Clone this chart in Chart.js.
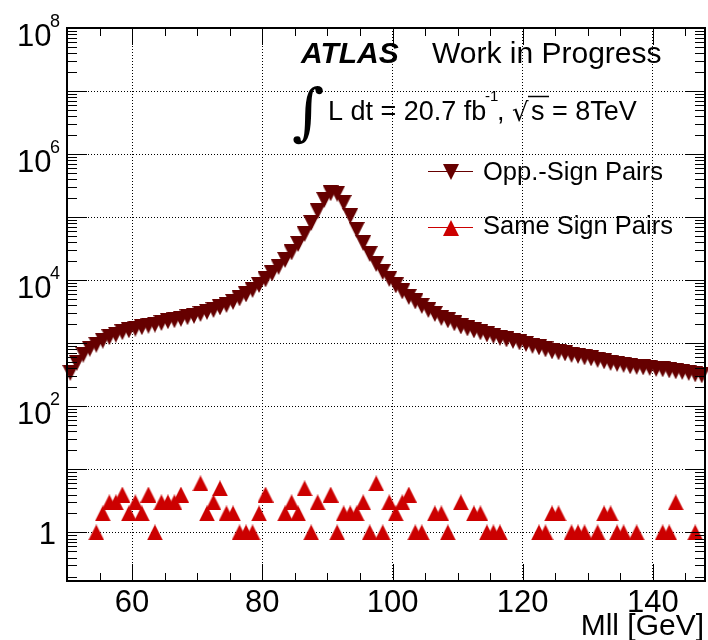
<!DOCTYPE html>
<html>
<head>
<meta charset="utf-8">
<title>Mll</title>
<script src="https://cdn.jsdelivr.net/npm/chart.js@4.4.1/dist/chart.umd.min.js"></script>
<style>
  html, body { margin:0; padding:0; background:#fff; overflow:hidden; }
  #wrap { width:708px; height:640px; }
  #chart { display:block; }
</style>
</head>
<body>
<div id="wrap"><canvas id="chart" width="708" height="640"></canvas></div>
<script>
'use strict';

// ===== Data: dilepton mass, 1 GeV bins =====
const MLL_MIN = 50;
const MLL_MAX = 148;
const BIN_WIDTH = 1;

// opposite-sign pairs per bin (50-51, 51-52, ... 147-148)
const OS_COUNTS = [
  340, 490, 660, 820, 950, 1100, 1250, 1370, 1500, 1610,
  1710, 1800, 1900, 1980, 2100, 2240, 2320, 2440, 2590, 2720,
  2920, 3150, 3380, 3710, 4060, 4530, 5150, 5960, 7020, 8420,
  10300, 12800, 16300, 21000, 27600, 37600, 54200, 80900, 125000, 187000,
  240000, 236000, 168000, 104500, 62700, 39000, 26100, 18100, 13500, 10500,
  8280, 6650, 5440, 4610, 3920, 3380, 2920, 2530, 2310, 2070,
  1850, 1720, 1600, 1490, 1380, 1310, 1220, 1150, 1090, 1030,
  978, 909, 861, 800, 744, 718, 692, 655, 631, 598,
  577, 546, 517, 489, 472, 455, 431, 423, 415, 408,
  393, 386, 372, 359, 352, 340, 321, 310
];

// same-sign pairs per bin (empty bins are not drawn on the log axis)
const SS_COUNTS = [
  0, 0, 0, 0, 1, 2, 3, 3, 4, 2,
  3, 2, 4, 1, 3, 3, 3, 4, 0, 0,
  6, 2, 3, 5, 2, 2, 1, 1, 1, 2,
  4, 0, 0, 2, 3, 2, 5, 1, 3, 0,
  4, 1, 2, 2, 2, 3, 1, 6, 1, 3,
  2, 3, 4, 1, 1, 0, 2, 2, 1, 0,
  3, 0, 2, 2, 1, 1, 1, 0, 0, 0,
  0, 0, 1, 1, 2, 2, 0, 1, 1, 1,
  0, 1, 2, 2, 1, 1, 0, 1, 0, 0,
  0, 1, 1, 3, 0, 0, 1, 0
];

const X_TICKS = [60, 80, 100, 120, 140];
const Y_GRID_EXPONENTS = [0, 1, 2, 3, 4, 5, 6, 7, 8];
const Y_LABEL_EXPONENTS = [0, 2, 4, 6, 8];
const Y_MIN = 0.17;
const Y_MAX = 1e8;

// ===== Colors =====
const OS_COLOR = '#660000';
const SS_COLOR = '#cc0000';
const FONT = '"Liberation Sans", Arial, Helvetica, sans-serif';

// ===== markers =====
function triangleMarker(color, pointDown){
  const s = 16;
  const c = document.createElement('canvas');
  c.width = s; c.height = s;
  const g = c.getContext('2d');
  g.fillStyle = color;
  g.beginPath();
  if(pointDown){
    g.moveTo(0, 0); g.lineTo(s, 0); g.lineTo(s / 2, s);
  } else {
    g.moveTo(0, s); g.lineTo(s, s); g.lineTo(s / 2, 0);
  }
  g.closePath();
  g.fill();
  return c;
}

const markerDown = triangleMarker(OS_COLOR, true);
const markerUp = triangleMarker(SS_COLOR, false);

function toPoints(counts){
  const pts = [];
  counts.forEach((v, i) => {
    if(v <= 0) return;
    pts.push({ x: MLL_MIN + (i + 0.5) * BIN_WIDTH, y: v });
  });
  return pts;
}

// ===== frame, ticks, labels, legend (ROOT-like) =====
const rootFrame = {
  id: 'rootFrame',
  afterDraw(chart){
    const ctx = chart.ctx;
    const { left, right, top, bottom } = chart.chartArea;
    const xs = chart.scales.x, ys = chart.scales.y;

    ctx.save();
    ctx.strokeStyle = '#000';
    ctx.lineWidth = 2;
    ctx.strokeRect(left, top, right - left, bottom - top);

    // y ticks, inward on both sides
    ctx.lineWidth = 1;
    ctx.beginPath();
    for(let n = -1; n <= 8; n++){
      for(let k = 1; k <= 9; k++){
        const v = k * Math.pow(10, n);
        if(v < Y_MIN || v > Y_MAX) continue;
        const py = Math.round(ys.getPixelForValue(v)) + 0.5;
        const len = k === 1 ? 20 : 10;
        ctx.moveTo(left, py); ctx.lineTo(left + len, py);
        ctx.moveTo(right, py); ctx.lineTo(right - len, py);
      }
    }
    // x ticks every 5, long ones every 20
    for(let v = MLL_MIN + 5; v < MLL_MAX; v += 5){
      const px = Math.round(xs.getPixelForValue(v)) + 0.5;
      const len = v % 20 === 0 ? 17 : 8;
      ctx.moveTo(px, bottom); ctx.lineTo(px, bottom - len);
      ctx.moveTo(px, top); ctx.lineTo(px, top + len);
    }
    ctx.stroke();

    // y labels
    ctx.fillStyle = '#000';
    Y_LABEL_EXPONENTS.forEach(e => {
      const py = ys.getPixelForValue(Math.pow(10, e));
      ctx.font = `31px ${FONT}`;
      ctx.textAlign = 'right';
      if(e === 0){
        ctx.fillText('1', 56, py + 12);
        return;
      }
      ctx.fillText('10', 51.5, py + 17.5);
      ctx.font = `18px ${FONT}`;
      ctx.textAlign = 'left';
      ctx.fillText(String(e), 50, py - 1.5);
    });

    // x labels + title
    ctx.font = `31px ${FONT}`;
    ctx.textAlign = 'center';
    X_TICKS.forEach(v => {
      ctx.fillText(String(v), xs.getPixelForValue(v), 612);
    });
    ctx.font = `30px ${FONT}`;
    ctx.textAlign = 'right';
    ctx.fillText('Mll [GeV]', 704, 635);

    // experiment label
    ctx.textAlign = 'left';
    ctx.font = `italic bold 30px ${FONT}`;
    ctx.fillText('ATLAS', 301, 63);
    ctx.font = `30px ${FONT}`;
    ctx.fillText('Work in Progress', 432, 63);

    // luminosity line
    ctx.font = `62px "DejaVu Serif", serif`;
    ctx.fillText('\u222B', 292, 133);
    ctx.font = `27px ${FONT}`;
    ctx.fillText('L dt = 20.7 fb', 328, 120);
    ctx.font = `15px ${FONT}`;
    ctx.fillText('-1', 485, 101);
    ctx.font = `27px ${FONT}`;
    ctx.fillText(',', 497, 120);
    ctx.font = `26px "DejaVu Sans", sans-serif`;
    ctx.fillText('\u221A', 512, 121);
    ctx.lineWidth = 1.5;
    ctx.beginPath();
    ctx.moveTo(528, 96.5); ctx.lineTo(549, 96.5);
    ctx.stroke();
    ctx.font = `27px ${FONT}`;
    ctx.fillText('s = 8TeV', 531, 120);

    // legend
    const legend = [
      { text: 'Opp.-Sign Pairs', color: OS_COLOR, marker: markerDown, y: 171.5, base: 179.5 },
      { text: 'Same Sign Pairs', color: SS_COLOR, marker: markerUp, y: 227.5, base: 233.5 }
    ];
    legend.forEach(l => {
      ctx.strokeStyle = l.color;
      ctx.lineWidth = 1;
      ctx.beginPath();
      ctx.moveTo(428, l.y); ctx.lineTo(473, l.y);
      ctx.stroke();
      ctx.drawImage(l.marker, 451 - 8, Math.round(l.y) - 8);
      ctx.font = `25.5px ${FONT}`;
      ctx.fillStyle = '#000';
      ctx.fillText(l.text, 483, l.base);
    });
    ctx.restore();
  }
};

// ===== chart =====
const chart = new Chart(document.getElementById('chart'), {
  type: 'scatter',
  data: {
    datasets: [
      { label: 'Opp.-Sign Pairs', data: toPoints(OS_COUNTS), pointStyle: markerDown, pointRadius: 8, clip: false },
      { label: 'Same Sign Pairs', data: toPoints(SS_COUNTS), pointStyle: markerUp, pointRadius: 8, clip: false }
    ]
  },
  options: {
    responsive: false,
    animation: false,
    devicePixelRatio: 1,
    events: [],
    layout: { autoPadding: false, padding: { left: 67, right: 3, top: 28, bottom: 59 } },
    plugins: { legend: { display: false }, tooltip: { enabled: false } },
    scales: {
      x: {
        type: 'linear', min: MLL_MIN, max: MLL_MAX,
        afterBuildTicks: s => { s.ticks = X_TICKS.map(v => ({ value: v })); },
        ticks: { display: false },
        grid: { color: '#000', lineWidth: 1, drawTicks: false },
        border: { display: false, dash: [1, 2] }
      },
      y: {
        type: 'logarithmic', min: Y_MIN, max: Y_MAX,
        afterBuildTicks: s => { s.ticks = Y_GRID_EXPONENTS.map(e => ({ value: Math.pow(10, e) })); },
        ticks: { display: false },
        grid: { color: '#000', lineWidth: 1, drawTicks: false },
        border: { display: false, dash: [1, 2] }
      }
    }
  },
  plugins: [rootFrame]
});
</script>
</body>
</html>
